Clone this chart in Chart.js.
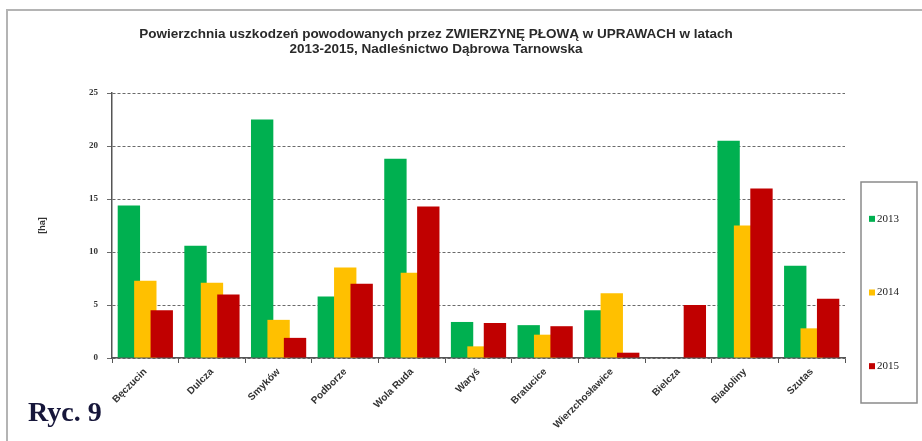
<!DOCTYPE html>
<html>
<head>
<meta charset="utf-8">
<script src="https://cdn.jsdelivr.net/npm/chart.js@4.4.1/dist/chart.umd.min.js"></script>
<style>
  html, body { margin: 0; padding: 0; background: #fff; }
  #wrap { width: 922px; height: 441px; position: relative; }
</style>
</head>
<body>
<div id="wrap"><canvas id="chart"></canvas></div>
<script>
const categories = ['Bęczucin', 'Dulcza', 'Smyków', 'Podborze', 'Wola Ruda', 'Waryś', 'Bratucice', 'Wierzchosławice', 'Bielcza', 'Biadoliny', 'Szutas'];
const years = ['2013', '2014', '2015'];
const values2013 = [14.4, 10.6, 22.5, 5.8, 18.8, 3.4, 3.1, 4.5, 0, 20.5, 8.7];
const values2014 = [7.3, 7.1, 3.6, 8.55, 8.05, 1.1, 2.2, 6.1, 0, 12.5, 2.8];
const values2015 = [4.5, 6.0, 1.9, 7.0, 14.3, 3.3, 3.0, 0.5, 5.0, 16.0, 5.6];
const yTicks = [0, 5, 10, 15, 20, 25];
const colors = ['#00b050', '#ffc000', '#c00000'];

// draw datasets first-to-last so later years overlap earlier ones (like Excel)
const drawOrder = {
    id: 'drawOrder',
    beforeDatasetsDraw(chart) {
        chart.getSortedVisibleDatasetMetas().forEach(m => m.controller.draw());
        return false;
    }
};

// frame, "Ryc. 9" caption and the boxed legend
const decor = {
    id: 'decor',
    afterDraw(chart, args, opts) {
        const ctx = chart.ctx;
        ctx.save();
        ctx.strokeStyle = '#b4b4b4';
        ctx.lineWidth = 2;
        ctx.strokeRect(7, 10, 1000, 1000);

        ctx.fillStyle = '#16163a';
        ctx.font = 'bold 28px "Liberation Serif"';
        ctx.textBaseline = 'alphabetic';
        ctx.fillText(opts.caption, 28, 421);

        const b = opts.box;
        ctx.strokeStyle = '#8a8a8a';
        ctx.lineWidth = 1.5;
        ctx.strokeRect(b.left, b.top, b.width, b.height);
        const n = chart.data.datasets.length;
        ctx.font = '11px "Liberation Serif"';
        ctx.textBaseline = 'middle';
        chart.data.datasets.forEach((ds, i) => {
            const y = b.top + b.height * (i + 0.5) / n;
            ctx.fillStyle = ds.backgroundColor;
            ctx.fillRect(b.left + 8, y - 3, 6, 6);
            ctx.fillStyle = '#222';
            ctx.fillText(ds.label, b.left + 16, y);
        });
        ctx.restore();
    }
};

const chart = new Chart(document.getElementById('chart'), {
    type: 'bar',
    data: {
        labels: categories,
        datasets: [values2013, values2014, values2015].map((vals, i) => ({
            label: years[i],
            data: vals,
            backgroundColor: colors[i],
            borderWidth: 0,
            categoryPercentage: 0.74,
            barPercentage: 1.36
        }))
    },
    options: {
        responsive: true,
        maintainAspectRatio: false,
        animation: false,
        layout: { padding: { left: 27, right: 77, top: 0, bottom: 0 } },
        plugins: {
            legend: { display: false },
            tooltip: { enabled: false },
            title: {
                display: true,
                text: ['Powierzchnia uszkodzeń powodowanych przez ZWIERZYNĘ PŁOWĄ w UPRAWACH w latach',
                       '2013-2015, Nadleśnictwo Dąbrowa Tarnowska'],
                color: '#2a2a2a',
                font: { family: 'Liberation Sans', size: 13.5, weight: 'bold', lineHeight: 1.12 },
                padding: { top: 27, bottom: 35.8 }
            },
            decor: {
                caption: 'Ryc. 9',
                box: { left: 861, top: 182, width: 56, height: 221 }
            }
        },
        scales: {
            x: {
                afterFit: s => { s.height = 83; },
                grid: { drawOnChartArea: false, drawTicks: true, tickLength: 5, color: '#555' },
                border: { display: true, color: '#555', width: 1.5 },
                ticks: {
                    minRotation: 45, maxRotation: 45, autoSkip: false, padding: 3,
                    color: '#333',
                    font: { family: 'Liberation Sans', size: 10, weight: 'bold' }
                }
            },
            y: {
                min: 0,
                max: 25,
                afterFit: s => { s.width = 85; },
                afterBuildTicks: s => { s.ticks = yTicks.map(v => ({ value: v })); },
                grid: { color: '#6a6a6a', tickLength: 5, lineWidth: 1 },
                border: { display: true, color: '#555', width: 1.5, dash: [3, 2] },
                ticks: {
                    padding: 9, color: '#333',
                    font: { family: 'Liberation Serif', size: 9, weight: 'bold' }
                },
                title: {
                    display: true, text: '[ha]', color: '#333',
                    font: { family: 'Liberation Sans', size: 9, weight: 'bold' },
                    padding: { top: 10, bottom: 0 }
                }
            }
        }
    },
    plugins: [drawOrder, decor]
});
</script>
</body>
</html>
